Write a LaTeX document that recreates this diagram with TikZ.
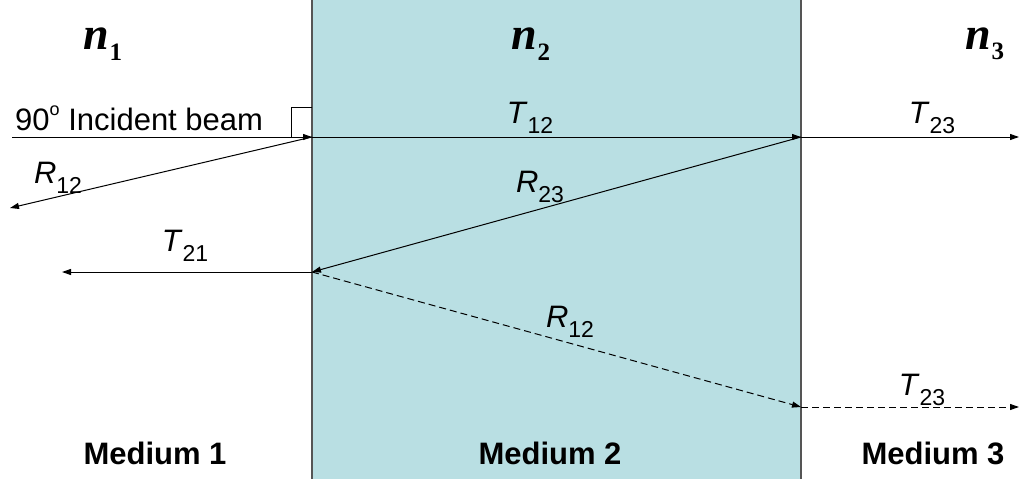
\documentclass[tikz,border=0pt]{standalone}
\usepackage{fontspec}
\setmainfont{Liberation Sans}
\newfontfamily\nfont{Liberation Serif}
\usetikzlibrary{arrows.meta}
\definecolor{medium}{HTML}{B9DFE3}
\definecolor{edge}{HTML}{555555}
\tikzset{
  beam/.style={line width=1pt, -{Triangle[length=9pt,width=6pt]}},
  dbeam/.style={beam, dash pattern=on 7pt off 4pt},
  lab/.style={font=\fontsize{31}{31}\selectfont, inner sep=0pt},
  idx/.style={font=\fontsize{46}{46}\selectfont\nfont\bfseries\itshape, inner sep=0pt},
  med/.style={font=\fontsize{31}{31}\selectfont\bfseries, inner sep=0pt}
}
\newcommand{\lbl}[2]{\textit{#1}\raisebox{-0.6ex}{\fontsize{23}{23}\selectfont #2}}
\newcommand{\nsub}[1]{n\raisebox{-0.5ex}{\fontsize{25}{25}\selectfont\upshape #1}}
\begin{document}
\begin{tikzpicture}[x=1pt,y=-1pt]
\useasboundingbox (0,0) rectangle (1021,479);
\fill[white] (0,0) rectangle (1021,479);
\filldraw[fill=medium, draw=edge, line width=1.2pt] (312,-2) rectangle (801,481);
% points
\coordinate (src) at (12,137);
\coordinate (A) at (312,137);
\coordinate (B) at (801,137);
\coordinate (C) at (312,272);
\coordinate (D) at (801,407);
\coordinate (r12end) at (10,208);
\coordinate (t21end) at (62,272);
\coordinate (t23end) at (1019,137);
\coordinate (t23bend) at (1019,407);
% right angle mark
\draw[line width=0.8pt] (312,107) -| (291,137);
% beams
\draw[beam] (src) -- (A);
\draw[beam] (A) -- (r12end);
\draw[beam] (A) -- (B);
\draw[beam] (B) -- (t23end);
\draw[beam] (B) -- (C);
\draw[beam] (C) -- (t21end);
\draw[dbeam] (C) -- (D);
\draw[dbeam] (D) -- (t23bend);
% labels
\node[idx] (n1) at (103,44) {\nsub{1}};
\node[idx] (n2) at (531,44) {\nsub{2}};
\node[idx] (n3) at (985,44) {\nsub{3}};
\node[lab, anchor=base west] (inc) at (15,130) {90\raisebox{0.9ex}{\fontsize{18}{18}\selectfont o} Incident beam};
\node[lab] (lt12) at (530,118) {\lbl{T}{12}};
\node[lab] (lt23) at (932,118) {\lbl{T}{23}};
\node[lab] (lr12) at (58,178) {\lbl{R}{12}};
\node[lab] (lr23) at (540,187) {\lbl{R}{23}};
\node[lab] (lt21) at (185,246) {\lbl{T}{21}};
\node[lab] (lr12b) at (570,322) {\lbl{R}{12}};
\node[lab] (lt23b) at (922,390) {\lbl{T}{23}};
\node[med] (m1) at (155,453) {Medium 1};
\node[med] (m2) at (550,453) {Medium 2};
\node[med] (m3) at (933,453) {Medium 3};
\end{tikzpicture}
\end{document}
